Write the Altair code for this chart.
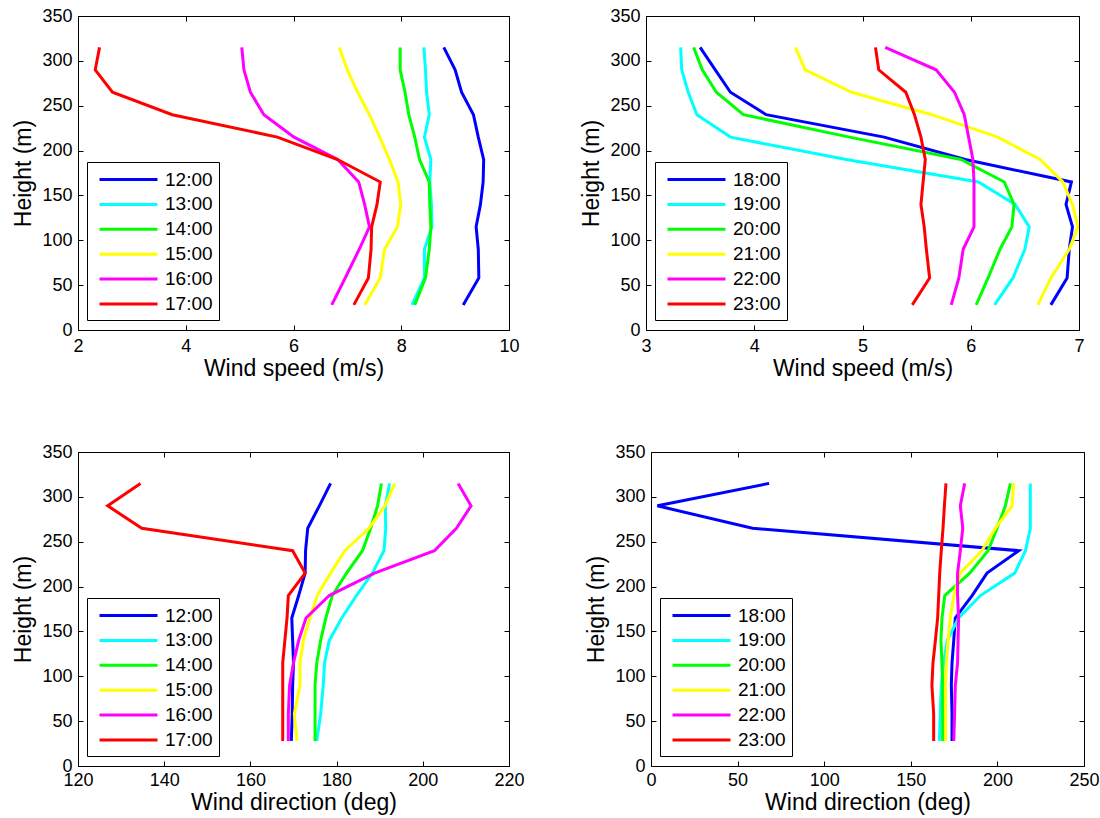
import altair as alt
import pandas as pd

heights = [28, 58, 90, 115, 140, 165, 190, 215, 240, 265, 290, 315]

COLORS = ["#0000FF", "#00FFFF", "#00FF00", "#FFFF00", "#FF00FF", "#FF0000"]
day_times = ["12:00", "13:00", "14:00", "15:00", "16:00", "17:00"]
night_times = ["18:00", "19:00", "20:00", "21:00", "22:00", "23:00"]

# Wind speed (m/s), heights bottom -> top
speed_1200 = [9.15, 9.44, 9.43, 9.39, 9.47, 9.52, 9.53, 9.43, 9.34, 9.12, 9.00, 8.79]
speed_1300 = [8.20, 8.43, 8.43, 8.57, 8.56, 8.53, 8.55, 8.43, 8.52, 8.47, 8.45, 8.42]
speed_1400 = [8.25, 8.45, 8.52, 8.55, 8.53, 8.52, 8.34, 8.25, 8.14, 8.07, 7.98, 7.98]
speed_1500 = [7.32, 7.61, 7.69, 7.93, 7.99, 7.94, 7.78, 7.60, 7.41, 7.19, 7.00, 6.85]
speed_1600 = [6.71, 6.96, 7.22, 7.41, 7.32, 7.21, 6.82, 6.01, 5.45, 5.20, 5.08, 5.04]
speed_1700 = [7.12, 7.39, 7.44, 7.45, 7.55, 7.61, 6.82, 5.70, 3.75, 2.64, 2.32, 2.40]

speed_1800 = [6.74, 6.89, 6.91, 6.94, 6.88, 6.93, 5.95, 5.20, 4.11, 3.78, 3.64, 3.50]
speed_1900 = [6.22, 6.39, 6.50, 6.54, 6.41, 6.07, 4.85, 3.78, 3.47, 3.39, 3.33, 3.32]
speed_2000 = [6.05, 6.16, 6.27, 6.38, 6.40, 6.31, 5.91, 4.88, 3.90, 3.65, 3.52, 3.44]
speed_2100 = [6.62, 6.74, 6.91, 6.99, 6.94, 6.85, 6.64, 6.25, 5.64, 4.90, 4.47, 4.38]
speed_2200 = [5.82, 5.89, 5.93, 6.03, 6.03, 6.03, 6.02, 5.98, 5.94, 5.85, 5.68, 5.21]
speed_2300 = [5.46, 5.62, 5.59, 5.57, 5.54, 5.56, 5.58, 5.54, 5.48, 5.40, 5.15, 5.12]

# Wind direction (deg)
dir_1200 = [169.5, 169.7, 169.8, 170.0, 169.8, 169.6, 171.2, 172.7, 172.8, 173.3, 176.0, 178.6]
dir_1300 = [175.4, 176.3, 176.9, 177.2, 178.3, 181.2, 184.6, 188.3, 191.0, 191.4, 191.3, 192.3]
dir_1400 = [175.0, 175.0, 175.0, 175.4, 176.3, 177.5, 179.0, 182.3, 186.0, 187.9, 189.5, 190.4]
dir_1500 = [170.8, 170.2, 171.5, 171.5, 172.3, 173.8, 175.5, 178.6, 181.9, 187.5, 191.2, 193.5]
dir_1600 = [168.8, 168.8, 169.1, 170.0, 171.2, 172.9, 178.3, 188.8, 202.7, 207.8, 211.2, 208.2]
dir_1700 = [167.5, 167.5, 167.5, 167.5, 168.0, 168.5, 168.8, 172.7, 169.8, 134.8, 126.9, 134.5]

dir_1800 = [173.8, 173.8, 173.4, 173.8, 174.8, 175.7, 185.4, 194.0, 212.3, 58.6, 3.7, 68.2]
dir_1900 = [166.5, 167.0, 167.6, 169.0, 171.0, 177.6, 190.2, 210.0, 216.2, 219.0, 219.0, 219.0]
dir_2000 = [168.4, 168.4, 168.4, 168.0, 167.4, 168.0, 169.6, 184.0, 194.6, 199.8, 204.6, 207.5]
dir_2100 = [170.0, 170.0, 170.0, 170.5, 171.5, 172.8, 174.8, 178.6, 191.0, 198.8, 208.5, 209.4]
dir_2200 = [174.8, 175.3, 175.7, 177.0, 177.3, 177.6, 177.0, 177.0, 178.6, 180.0, 178.6, 181.1]
dir_2300 = [163.2, 163.2, 162.2, 162.8, 164.2, 165.5, 166.1, 166.7, 167.6, 168.6, 169.4, 170.3]

y_ticks = [0, 50, 100, 150, 200, 250, 300, 350]
x_ticks_1 = [2, 4, 6, 8, 10]
x_ticks_2 = [3, 4, 5, 6, 7]
x_ticks_3 = [120, 140, 160, 180, 200, 220]
x_ticks_4 = [0, 50, 100, 150, 200, 250]


def make_df(times, series):
    rows = []
    for t, vals in zip(times, series):
        for h, v in zip(heights, vals):
            rows.append({"time": t, "h": h, "v": v})
    return pd.DataFrame(rows)


H = 314


def panel(times, series, xdom, xticks, xtitle, width, lab_pad):
    df = make_df(times, series)
    color = alt.Color(
        "time:N",
        scale=alt.Scale(domain=times, range=COLORS),
        legend=alt.Legend(
            title=None, orient="none", legendX=9, legendY=146,
            strokeColor="black", fillColor="white", padding=6,
            labelFontSize=19, labelFont="Liberation Sans", labelColor="black",
            symbolType="M-0.5,0H5.3", symbolSize=400, symbolStrokeWidth=3,
            labelOffset=49, rowPadding=2.9, cornerRadius=0,
        ),
    )
    xscale = alt.Scale(domain=xdom, nice=False, zero=False)
    yscale = alt.Scale(domain=[0, 350], nice=False, zero=False)
    lines = alt.Chart(df).mark_line(strokeWidth=3, clip=True).encode(
        x=alt.X("v:Q", scale=xscale, axis=alt.Axis(
            orient="bottom", values=xticks, title=xtitle, offset=-5, tickSize=5,
            domain=False, labelPadding=lab_pad, titlePadding=2, format="d",
            labelFlush=False, labelOverlap=False)),
        y=alt.Y("h:Q", scale=yscale, axis=alt.Axis(
            orient="left", values=y_ticks, title="Height (m)", offset=-5, tickSize=5,
            domain=False, labelPadding=6, titlePadding=6, format="d",
            labelFlush=False, labelOverlap=False)),
        color=color,
        order=alt.Order("h:Q"),
    )
    ticks = alt.Chart(df).mark_line(opacity=0).encode(
        x=alt.X("v:Q", scale=xscale, axis=alt.Axis(
            orient="top", values=xticks, title=None, labels=False, offset=-5,
            tickSize=5, domain=False)),
        y=alt.Y("h:Q", scale=yscale, axis=alt.Axis(
            orient="right", values=y_ticks, title=None, labels=False, offset=-5,
            tickSize=5, domain=False)),
        detail="time:N",
        order=alt.Order("h:Q"),
    )
    return alt.layer(lines, ticks).resolve_axis(x="independent", y="independent").properties(width=width, height=H)


p1 = panel(day_times, [speed_1200, speed_1300, speed_1400, speed_1500, speed_1600, speed_1700],
           [2, 10], x_ticks_1, "Wind speed (m/s)", 431, 7)
p2 = panel(night_times, [speed_1800, speed_1900, speed_2000, speed_2100, speed_2200, speed_2300],
           [3, 7], x_ticks_2, "Wind speed (m/s)", 433, 7)
p3 = panel(day_times, [dir_1200, dir_1300, dir_1400, dir_1500, dir_1600, dir_1700],
           [120, 220], x_ticks_3, "Wind direction (deg)", 431, 5)
p4 = panel(night_times, [dir_1800, dir_1900, dir_2000, dir_2100, dir_2200, dir_2300],
           [0, 250], x_ticks_4, "Wind direction (deg)", 433, 5)

top = alt.hconcat(p1, p2, spacing=60).resolve_scale(color="independent")
bottom = alt.hconcat(p3, p4, spacing=60).resolve_scale(color="independent")

chart = alt.vconcat(top, bottom, spacing=61).resolve_scale(color="independent").properties(
    padding={"left": 12, "top": 6, "right": 0, "bottom": 0},
    background="white",
).configure_view(
    stroke="black", strokeWidth=1
).configure_axis(
    labelFont="Liberation Sans", titleFont="Liberation Sans",
    labelFontSize=18, titleFontSize=23, titleFontWeight="normal",
    labelColor="black", titleColor="black", tickColor="black", tickWidth=1,
    grid=False,
)

chart.save("out.html", embed_options={"renderer": "svg", "actions": False})
